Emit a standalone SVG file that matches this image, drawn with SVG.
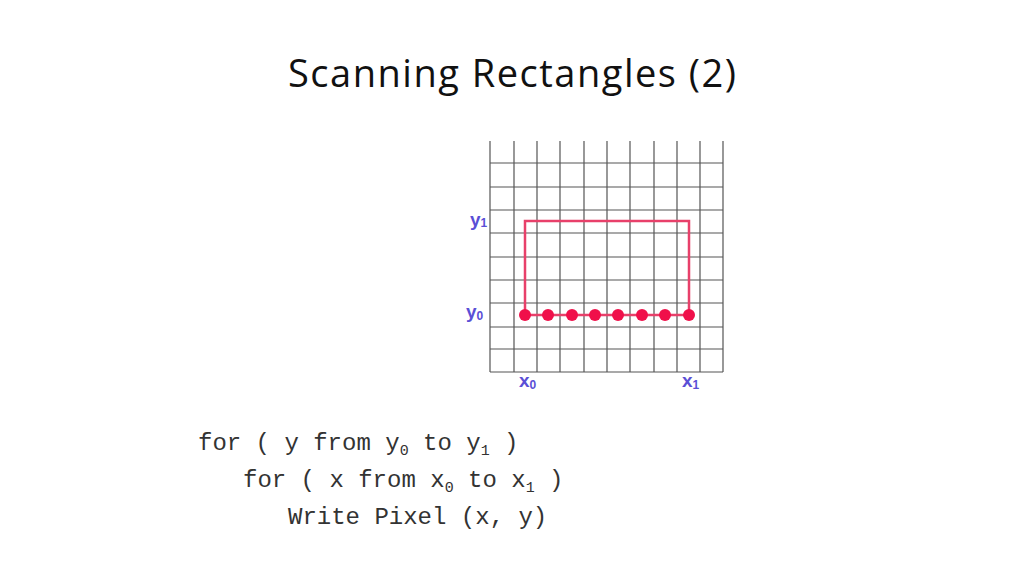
<svg xmlns="http://www.w3.org/2000/svg" width="1024" height="576" viewBox="0 0 1024 576">
<style>
.g{stroke:#555;stroke-width:1.2;fill:none}
.lb{font-family:"Liberation Sans",Arial,sans-serif;font-size:19px;fill:#5a4fd6;font-weight:bold}
.lbs{font-size:12px}
.code{font-family:"Liberation Mono","Courier New",monospace;font-size:24px;fill:#333}
.sub{font-size:15px}
</style>
<rect width="1024" height="576" fill="#fff"/>
<text x="512" y="87" text-anchor="middle" font-family="'Open Sans','Liberation Sans',sans-serif" font-size="38" fill="#111" textLength="448">Scanning Rectangles (2)</text>
<g id="grid">
<path class="g" d="M490 141V372M514 141V372M537 141V372M560 141V372M584 141V372M607 141V372M630 141V372M654 141V372M677 141V372M700 141V372M723 141V372M490 163H723M490 187H723M490 210H723M490 233H723M490 257H723M490 280H723M490 303H723M490 327H723M490 349H723M490 372H723"/>
</g>
<g id="rect">
<path d="M525 315V221H689V315Z" fill="none" stroke="#e8406a" stroke-width="2.5"/>
<g fill="#f0104a">
<circle cx="525" cy="315" r="6"/><circle cx="548" cy="315" r="6"/><circle cx="572" cy="315" r="6"/><circle cx="595" cy="315" r="6"/><circle cx="618" cy="315" r="6"/><circle cx="642" cy="315" r="6"/><circle cx="665" cy="315" r="6"/><circle cx="689" cy="315" r="6"/>
</g>
</g>
<g id="labels">
<text class="lb" x="470" y="226">y<tspan class="lbs" dy="1">1</tspan></text>
<text class="lb" x="466" y="318">y<tspan class="lbs" dy="2">0</tspan></text>
<text class="lb" x="519" y="387">x<tspan class="lbs" dy="2">0</tspan></text>
<text class="lb" x="682" y="387">x<tspan class="lbs" dy="2">1</tspan></text>
</g>
<g id="code">
<text class="code" x="198" y="450">for ( y from y<tspan class="sub" dy="5">0</tspan><tspan dy="-5"> to y</tspan><tspan class="sub" dy="5">1</tspan><tspan dy="-5"> )</tspan></text>
<text class="code" x="243" y="487">for ( x from x<tspan class="sub" dy="5">0</tspan><tspan dy="-5"> to x</tspan><tspan class="sub" dy="5">1</tspan><tspan dy="-5"> )</tspan></text>
<text class="code" x="288" y="524">Write Pixel (x, y)</text>
</g>
</svg>
